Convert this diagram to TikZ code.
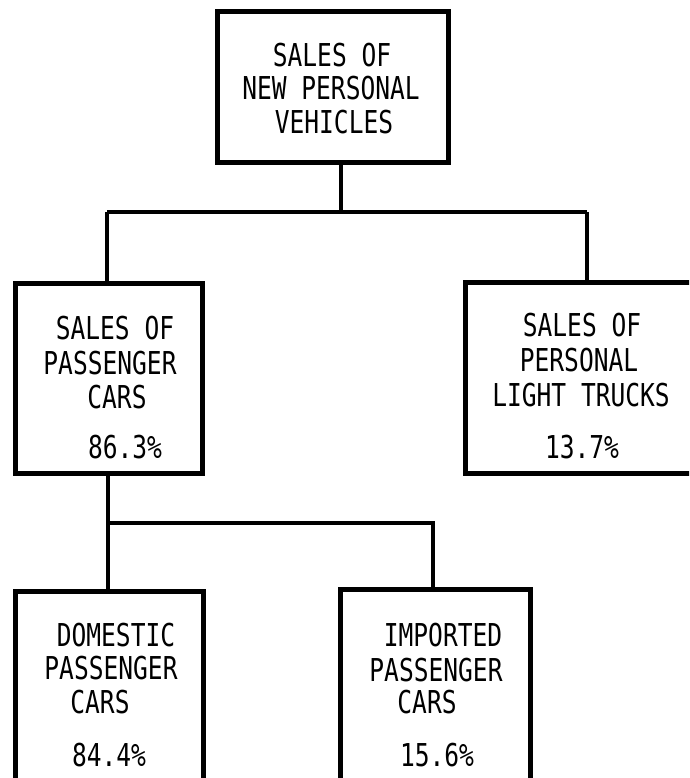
\documentclass[tikz,border=0pt]{standalone}
\usepackage{fontspec}
\newfontfamily\tw[FakeStretch=0.78]{DejaVu Sans Mono}
\begin{document}
\begin{tikzpicture}[x=1pt,y=-1pt,
  box/.style={draw, line width=5pt, rectangle, inner sep=0pt},
  conn/.style={line width=4.5pt},
  lbl/.style={font=\tw\fontsize{31.5}{35}\selectfont, inner sep=0pt, text height=23pt, text depth=0pt, anchor=center}]
\useasboundingbox (0,0) rectangle (689,778);
\clip (0,0) rectangle (689,778);
% boxes
\node[box, minimum width=231pt, minimum height=151pt] (root) at (332.5,87.5) {};
\node[box, minimum width=187pt, minimum height=190pt] (cars) at (108.5,378) {};
\node[box, minimum width=260pt, minimum height=191pt] (trucks) at (595,377.5) {};
\node[box, minimum width=188pt, minimum height=300pt] (domestic) at (109,741) {};
\node[box, minimum width=190pt, minimum height=300pt] (imported) at (435,739) {};
% labels
\node[lbl] (r1) at (332,55) {SALES OF};
\node[lbl] (r2) at (331,88) {NEW PERSONAL};
\node[lbl] (r3) at (334,122) {VEHICLES};
\node[lbl] (c1) at (115,328) {SALES OF};
\node[lbl] (c2) at (110,363) {PASSENGER};
\node[lbl] (c3) at (117,397) {CARS};
\node[lbl] (c4) at (125,447) {86.3\%};
\node[lbl] (t1) at (582,325) {SALES OF};
\node[lbl] (t2) at (579,360) {PERSONAL};
\node[lbl] (t3) at (581,395) {LIGHT TRUCKS};
\node[lbl] (t4) at (582,447) {13.7\%};
\node[lbl] (d1) at (116,635) {DOMESTIC};
\node[lbl] (d2) at (111,668) {PASSENGER};
\node[lbl] (d3) at (100,702) {CARS};
\node[lbl] (d4) at (109,755) {84.4\%};
\node[lbl] (i1) at (443,635) {IMPORTED};
\node[lbl] (i2) at (436,670) {PASSENGER};
\node[lbl] (i3) at (427,702) {CARS};
\node[lbl] (i4) at (437,755) {15.6\%};
% connectors
\coordinate (j1) at (341,212);
\coordinate (jL) at (107,212);
\coordinate (jR) at (587,212);
\coordinate (k) at (108,523);
\coordinate (kR) at (433,523);
\draw[conn] (j1 |- root.south) -- (j1);
\draw[conn] (jL) -- (jR);
\draw[conn] (jL) -- (jL |- cars.north);
\draw[conn] (jR) -- (jR |- trucks.north);
\draw[conn] (k |- cars.south) -- (k |- domestic.north);
\draw[conn] (k) -- (kR) -- (kR |- imported.north);
\end{tikzpicture}
\end{document}
